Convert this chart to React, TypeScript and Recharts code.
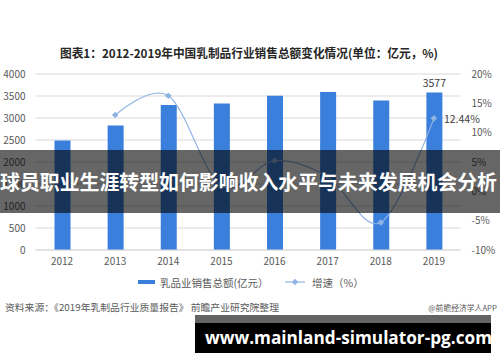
import React from 'react';
import { ComposedChart, Bar, Line, XAxis, YAxis, CartesianGrid, Legend, LabelList } from 'recharts';

const years = ['2012', '2013', '2014', '2015', '2016', '2017', '2018', '2019'];
const salesValues = [2490, 2831, 3298, 3328, 3504, 3590, 3399, 3577];
const growthValues: (number | null)[] = [null, 13.0, 16.3, 0.9, 5.2, 2.5, -5.3, 12.44];
const leftTicks = [0, 500, 1000, 1500, 2000, 2500, 3000, 3500, 4000];
const rightTicks = [-10, -5, 0, 5, 10, 15, 20];

const salesName = '乳品业销售总额(亿元）';
const growthName = '增速（%）';
const titleText = '图表1：2012-2019年中国乳制品行业销售总额变化情况(单位：亿元，%)';
const bannerText = '球员职业生涯转型如何影响收入水平与未来发展机会分析';
const sourceText = '资料来源：《2019年乳制品行业质量报告》 前瞻产业研究院整理';
const brandText = '@前瞻经济学人APP';
const urlText = 'www.mainland-simulator-pg.com';

const data = years.map((year, i) => ({ year, sales: salesValues[i], growth: growthValues[i] }));

const FONT = "'Noto Sans CJK SC', 'Noto Sans', sans-serif";
const BAR_COLOR = '#3b7fdd';
const LINE_COLOR = '#8fb4e4';
const TICK_COLOR = '#595959';

// Catmull-Rom style smoothing (cardinal, tension 0), similar to spreadsheet smoothed lines
function smoothCurve(context: any) {
  const k = 1 / 6;
  let x0 = NaN, x1 = NaN, x2 = NaN, y0 = NaN, y1 = NaN, y2 = NaN;
  let pt = 0;
  let line: number = NaN;
  const seg = (x: number, y: number) =>
    context.bezierCurveTo(
      x1 + k * (x2 - x0),
      y1 + k * (y2 - y0),
      x2 + k * (x1 - x),
      y2 + k * (y1 - y),
      x2,
      y2
    );
  return {
    areaStart() { line = 0; },
    areaEnd() { line = NaN; },
    lineStart() { x0 = x1 = x2 = y0 = y1 = y2 = NaN; pt = 0; },
    lineEnd() {
      if (pt === 2) context.lineTo(x2, y2);
      else if (pt === 3) seg(x1, y1);
      if (line || (line !== 0 && pt === 1)) context.closePath();
      line = 1 - line;
    },
    point(xa: number, ya: number) {
      const x = +xa, y = +ya;
      switch (pt) {
        case 0: pt = 1; if (line) context.lineTo(x, y); else context.moveTo(x, y); break;
        case 1: pt = 2; x1 = x; y1 = y; break;
        case 2: pt = 3; seg(x, y); break;
        default: seg(x, y); break;
      }
      x0 = x1; x1 = x2; x2 = x;
      y0 = y1; y1 = y2; y2 = y;
    },
  };
}

const Diamond = (props: any) => {
  const { cx, cy, index } = props;
  if (cx == null || cy == null || growthValues[index] == null) return <g key={`dot-${index}`} />;
  const r = 3.3;
  return (
    <path
      key={`dot-${index}`}
      d={`M${cx},${cy - r}L${cx + r},${cy}L${cx},${cy + r}L${cx - r},${cy}Z`}
      fill={LINE_COLOR}
    />
  );
};

const BarLabel = (props: any) => {
  const { x, y, width, value, index } = props;
  if (index !== years.length - 1) return null;
  return (
    <text x={x + width / 2} y={y - 6} textAnchor="middle" fontSize={10.5} fill="#404040" fontFamily={FONT}>
      {value}
    </text>
  );
};

const LineLabel = (props: any) => {
  const { x, y, value, index } = props;
  if (index !== years.length - 1 || value == null) return null;
  return (
    <text x={x + 10} y={y} dominantBaseline="central" fontSize={10.5} fill="#404040" fontFamily={FONT}>
      {`${value}%`}
    </text>
  );
};

const LegendContent = () => (
  <svg width={500} height={20} style={{ display: 'block' }}>
    <rect x={138} y={8} width={17} height={4} fill={BAR_COLOR} />
    <text x={160} y={10} dominantBaseline="central" fontSize={10.5} fill={TICK_COLOR} fontFamily={FONT}>
      {salesName}
    </text>
    <line x1={285} y1={10} x2={305} y2={10} stroke={LINE_COLOR} strokeWidth={1.2} />
    <path d="M295,6.8L298.2,10L295,13.2L291.8,10Z" fill={LINE_COLOR} />
    <text x={312} y={10} dominantBaseline="central" fontSize={10.5} fill={TICK_COLOR} fontFamily={FONT}>
      {growthName}
    </text>
  </svg>
);

export default function App() {
  return (
    <div style={{ position: 'absolute', left: 0, top: 0, width: 500, height: 362, background: '#fff', overflow: 'hidden' }}>
      <ComposedChart
        width={500}
        height={362}
        data={data}
        margin={{ top: 74, right: 0, bottom: 82, left: 0 }}
        style={{ fontFamily: FONT }}
      >
        <CartesianGrid yAxisId="left" vertical={false} stroke="#d9d9d9" strokeWidth={1} />
        <XAxis
          dataKey="year"
          height={30}
          tickLine={false}
          tickSize={0}
          tickMargin={8}
          axisLine={{ stroke: '#d9d9d9' }}
          tick={{ fontSize: 10, fill: TICK_COLOR, fontFamily: FONT }}
          interval={0}
        />
        <YAxis
          yAxisId="left"
          width={35.5}
          domain={[0, 4000]}
          ticks={leftTicks}
          tickLine={false}
          axisLine={false}
          tickSize={0}
          tickMargin={10}
          tick={{ fontSize: 10, fill: TICK_COLOR, fontFamily: FONT }}
          interval={0}
        />
        <YAxis
          yAxisId="right"
          orientation="right"
          width={39.5}
          domain={[-10, 20]}
          ticks={rightTicks}
          tickLine={false}
          axisLine={false}
          tickSize={0}
          tickMargin={11}
          tickFormatter={(v: number) => `${v}%`}
          tick={{ fontSize: 10, fill: TICK_COLOR, fontFamily: FONT }}
          interval={0}
        />
        <Legend
          layout="vertical"
          align="center"
          verticalAlign="middle"
          content={LegendContent}
          wrapperStyle={{ position: 'absolute', left: 0, top: 272, width: 500, height: 20 }}
        />
        <Bar
          yAxisId="left"
          dataKey="sales"
          name={salesName}
          fill={BAR_COLOR}
          barSize={16}
          isAnimationActive={false}
        >
          <LabelList dataKey="sales" content={BarLabel} />
        </Bar>
        <Line
          yAxisId="right"
          dataKey="growth"
          name={growthName}
          type={smoothCurve as any}
          stroke={LINE_COLOR}
          strokeWidth={1.2}
          dot={Diamond}
          activeDot={false}
          isAnimationActive={false}
        >
          <LabelList dataKey="growth" content={LineLabel} />
        </Line>
      </ComposedChart>
      <svg
        width={500}
        height={362}
        style={{ position: 'absolute', left: 0, top: 0, pointerEvents: 'none' }}
        fontFamily={FONT}
      >
        <text x={60} y={52} dominantBaseline="central" fontSize={12} fontWeight="bold" fill="#262626" textLength={378} lengthAdjust="spacingAndGlyphs">
          {titleText}
        </text>
        <rect x={0} y={150} width={500} height={63} fill="rgba(0,0,0,0.6)" />
        <text x={0} y={181} dominantBaseline="central" fontSize={20} fontWeight="bold" fill="#ffffff" textLength={497} lengthAdjust="spacingAndGlyphs">
          {bannerText}
        </text>
        <text x={5} y={307} dominantBaseline="central" fontSize={9.5} fill="#595959" textLength={274} lengthAdjust="spacingAndGlyphs">
          {sourceText}
        </text>
        <text x={497} y={307} dominantBaseline="central" textAnchor="end" fontSize={7.8} fill="#595959">
          {brandText}
        </text>
        <rect x={195} y={315} width={296} height={8} fill="#646464" />
        <rect x={195} y={323} width={296} height={30} fill="#000000" />
        <text x={205} y={343.5} fontSize={17.2} fontWeight="bold" fill="#ffffff" fontFamily="'Open Sans', 'DejaVu Sans', sans-serif">
          {urlText}
        </text>
      </svg>
    </div>
  );
}
